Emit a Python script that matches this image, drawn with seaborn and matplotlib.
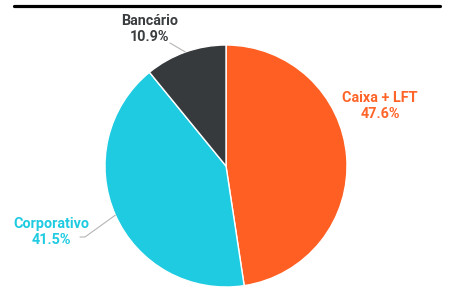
import numpy as np
import matplotlib
matplotlib.use("Agg")
import matplotlib.pyplot as plt
from matplotlib.lines import Line2D
import seaborn as sns

categories = ["Caixa + LFT", "Corporativo", "Bancário"]
values = [47.6, 41.5, 10.9]
colors = ["#FF5F22", "#1ECBE1", "#363A3D"]
text_colors = ["#FF6428", "#1ECBE1", "#3A3D40"]

sns.set_theme(style="white")
plt.rcParams['font.family'] = ['Roboto', 'DejaVu Sans']

W, H = 453, 287
fig = plt.figure(figsize=(W / 100, H / 100), dpi=100)
cx, cy, R = 226, 166, 121
ax = fig.add_axes([(cx - R) / W, (H - cy - R) / H, 2 * R / W, 2 * R / H])
wedges, _ = ax.pie(values, colors=colors, startangle=90, counterclock=False,
                   wedgeprops=dict(edgecolor="white", linewidth=1))
ax.set_xlim(-1, 1)
ax.set_ylim(-1, 1)
ax.set_aspect("equal")
ax.axis("off")

def px(x, y):
    return ((x - cx) / R, (cy - y) / R)

label_pos = [px(380, 106), px(51, 232), px(150, 29)]
leader = [None, [px(80, 237), px(85, 237)], [px(170, 43)]]

for i, (w, cat, val) in enumerate(zip(wedges, categories, values)):
    mid = np.deg2rad((w.theta1 + w.theta2) / 2)
    ex, ey = np.cos(mid), np.sin(mid)
    ax.text(label_pos[i][0], label_pos[i][1], f"{cat}\n{val:.1f}%",
            ha="center", va="center", color=text_colors[i],
            fontsize=10.4, fontweight="bold", linespacing=1.25,
            clip_on=False)
    if leader[i] is not None:
        pts = leader[i] + [(ex, ey)]
        xs = [p[0] for p in pts]
        ys = [p[1] for p in pts]
        ax.plot(xs, ys, color="#B5B5B5", lw=0.8, clip_on=False)

fig.add_artist(Line2D([14 / W, 440 / W], [1 - 5.5 / H, 1 - 5.5 / H],
                      color="black", lw=2.3, transform=fig.transFigure))

fig.savefig("out.png", dpi=100)
